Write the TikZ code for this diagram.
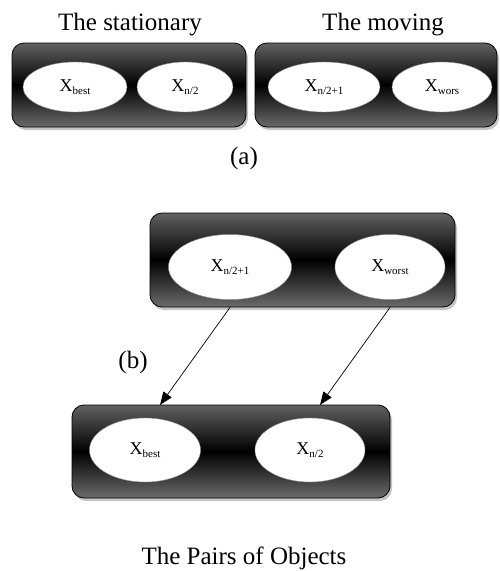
\documentclass[tikz,border=0pt]{standalone}
\usepackage{fontspec}
\setmainfont{Liberation Serif}
\usetikzlibrary{shapes.geometric,shadows,arrows.meta}
\newcommand{\lowtext}[1]{\raisebox{-0.4ex}{\fontsize{11}{11}\selectfont #1}}
\begin{document}
\begin{tikzpicture}[x=1pt,y=-1pt,
	pairbox/.style={draw, line width=0.8pt, rounded corners=12pt, inner sep=0pt,
		top color=black!62, bottom color=black!58, middle color=black,
		drop shadow={shadow xshift=2pt, shadow yshift=-3pt, fill=black!45}},
	obj/.style={ellipse, draw=black!40, fill=white, inner sep=0pt, font=\fontsize{18}{20}\selectfont},
	caption/.style={anchor=base, font=\fontsize{25}{28}\selectfont},
	link/.style={-{Triangle[length=13pt,width=10pt]}, line width=0.7pt}]
	\useasboundingbox (0,0) rectangle (499,571);
	% (a)
		% Cajas
			\node[pairbox, minimum width=234pt, minimum height=84pt] (stat) at (129,85) {};
			\node[pairbox, minimum width=242pt, minimum height=84pt] (move) at (376,85) {};
		% Objetos
			\node[obj, minimum width=104pt, minimum height=50pt] (s1) at (75,87) {X\lowtext{best}};
			\node[obj, minimum width=96pt, minimum height=50pt] (s2) at (185,87) {X\lowtext{n/2}};
			\node[obj, minimum width=112pt, minimum height=50pt] (v1) at (324,87) {X\lowtext{n/2+1}};
			\node[obj, minimum width=100pt, minimum height=50pt] (v2) at (442,87) {X\lowtext{wors}};
		% Textos
			\node[caption] (tstat) at (130,30) {The stationary};
			\node[caption] (tmove) at (383,30) {The moving};
			\node[caption] (la) at (244,164) {(a)};

	% (b)
		% Cajas
			\node[pairbox, minimum width=305pt, minimum height=94pt] (mid) at (302.5,260) {};
			\node[pairbox, minimum width=318pt, minimum height=93pt] (bot) at (231,451.5) {};
		% Objetos
			\node[obj, minimum width=123pt, minimum height=65pt] (m1) at (230,267) {X\lowtext{n/2+1}};
			\node[obj, minimum width=110pt, minimum height=65pt] (m2) at (390,267) {X\lowtext{worst}};
			\node[obj, minimum width=111pt, minimum height=64pt] (b1) at (145,450) {X\lowtext{best}};
			\node[obj, minimum width=110pt, minimum height=64pt] (b2) at (310,450) {X\lowtext{n/2}};
		% Flechas
			\coordinate (t1) at (160,405);
			\coordinate (t2) at (320,405);
			\draw[link] (m1 |- mid.south) -- (t1);
			\draw[link] (m2 |- mid.south) -- (t2);
		% Textos
			\node[caption] (lb) at (133,368) {(b)};
			\node[caption] (pairs) at (244,564) {The Pairs of Objects};
\end{tikzpicture}
\end{document}
